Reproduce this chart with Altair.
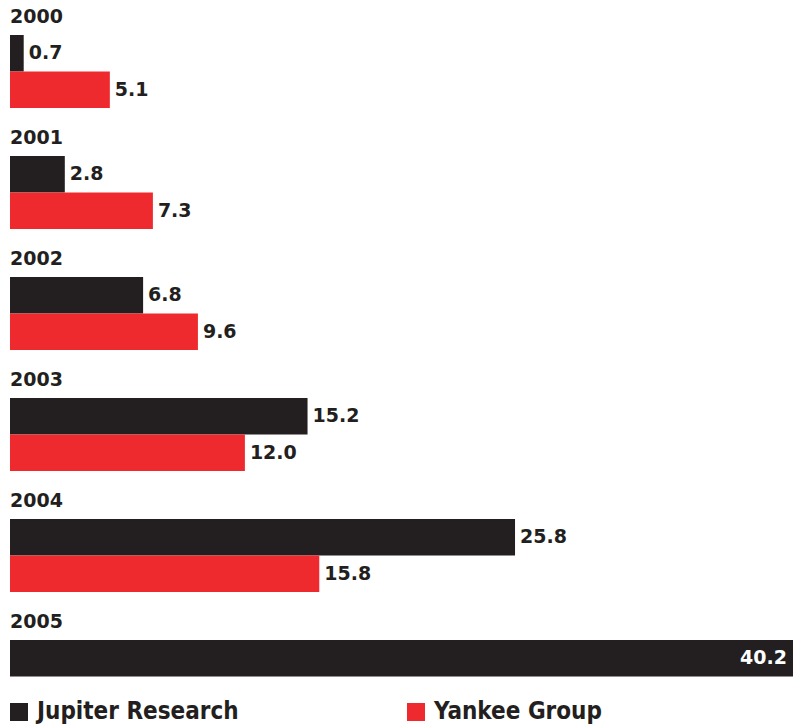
import altair as alt
import pandas as pd

years = ["2000", "2001", "2002", "2003", "2004", "2005"]
jupiter = [0.7, 2.8, 6.8, 15.2, 25.8, 40.2]
yankee = [5.1, 7.3, 9.6, 12.0, 15.8, None]
series = ["Jupiter Research", "Yankee Group"]
colors = ["#231f20", "#ee2a2e"]

rows = []
for y, j, k in zip(years, jupiter, yankee):
    rows.append({"year": y, "source": series[0], "value": j})
    if k is not None:
        rows.append({"year": y, "source": series[1], "value": k})
df = pd.DataFrame(rows)

FONT = "DejaVu Sans"
xscale = alt.Scale(domain=[0, 40], nice=False)
yenc = alt.Y("source:N", axis=None,
             scale=alt.Scale(domain=series, paddingInner=0, paddingOuter=0))

bars = alt.Chart().mark_bar(clip=True).encode(
    x=alt.X("value:Q", axis=None, scale=xscale),
    y=yenc,
    color=alt.Color(
        "source:N",
        scale=alt.Scale(domain=series, range=colors),
        legend=alt.Legend(
            title=None, orient="none", legendX=-3, legendY=665,
            direction="horizontal", symbolType="square", symbolSize=324,
            symbolStrokeWidth=0, labelFont="DejaVu Sans Condensed",
            labelFontWeight="bold", labelFontSize=24, labelColor="#231f20",
            labelOffset=6, columnPadding=165, labelLimit=400,
        ),
    ),
)

text_out = alt.Chart().mark_text(
    align="left", baseline="middle", dx=5, font=FONT, fontWeight="bold",
    fontSize=19, color="#231f20",
).encode(
    x=alt.X("value:Q", scale=xscale),
    y=yenc,
    text=alt.Text("value:Q", format=".1f"),
).transform_filter(alt.datum.value < 35)

text_in = alt.Chart().mark_text(
    align="right", baseline="middle", dx=-10, font=FONT, fontWeight="bold",
    fontSize=19, color="white",
).encode(
    x=alt.X("value:Q", scale=xscale),
    y=yenc,
    text=alt.Text("value:Q", format=".1f"),
).transform_filter(alt.datum.value >= 35)

chart = alt.layer(bars, text_out, text_in, data=df).properties(
    width=783, height=73
).facet(
    facet=alt.Facet(
        "year:O", title=None,
        header=alt.Header(
            labelFont=FONT, labelFontWeight="bold", labelFontSize=19,
            labelColor="#231f20", labelAnchor="start", labelAngle=0,
            labelPadding=-11,
        ),
    ),
    columns=1,
    spacing=21,
).configure_view(stroke=None).properties(
    padding={"left": 7, "top": 8, "right": 0, "bottom": 0}
)

chart.save("out.html", embed_options={"renderer": "svg", "actions": False})
